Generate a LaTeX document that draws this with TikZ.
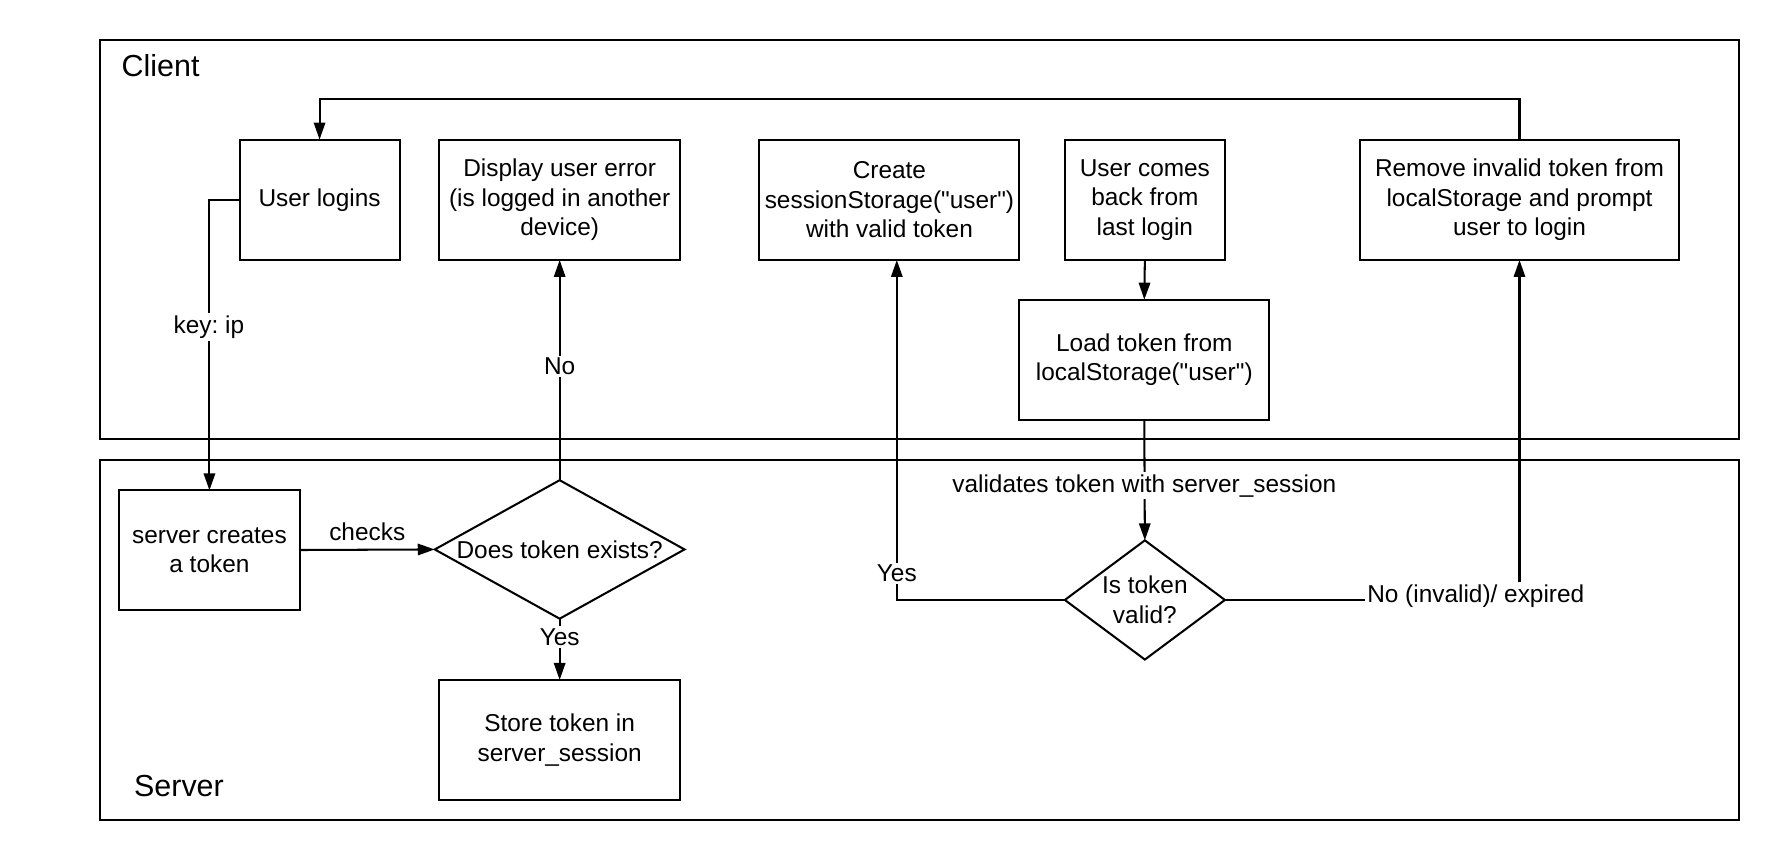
\documentclass[tikz,border=0pt]{standalone}
\usepackage{fontspec}
\setmainfont{Liberation Sans}
\usetikzlibrary{shapes.geometric,arrows.meta}
\frenchspacing
\begin{document}
\begin{tikzpicture}[x=1pt,y=-1pt,
  txt/.style={font=\fontsize{21.5}{26}\selectfont},
  proc/.style={txt, draw, line width=1.8pt, inner sep=0pt, outer sep=0pt, align=center},
  dec/.style={draw, diamond, line width=1.8pt, inner sep=0pt, outer sep=0pt},
  lane/.style={draw, line width=1.8pt, inner sep=0pt, outer sep=0pt},
  lanetitle/.style={font=\fontsize{26.8}{32}\selectfont, anchor=west, inner sep=0pt},
  arr/.style={line width=1.8pt, -{Triangle[length=15pt,width=10pt]}},
  lab/.style={txt, fill=white, inner sep=2pt}]
\useasboundingbox (0,0) rectangle (1568,757.6);

% swimlanes
\node[lane, minimum width=1444, minimum height=352] (clientlane) at (810,211) {};
\node[lane, minimum width=1444, minimum height=317] (serverlane) at (810,563.5) {};
\node[lanetitle] (clienttitle) at (107,58) {Client};
\node[lanetitle] (servertitle) at (118,692) {Server};

% client steps
\node[proc, minimum width=141, minimum height=106] (login) at (281.5,176) {User logins};
\node[proc, minimum width=212, minimum height=106] (display) at (493,176) {Display user error\\(is logged in another\\device)};
\node[proc, minimum width=229, minimum height=106] (create) at (783.5,176) {Create\\sessionStorage(\textquotedbl user\textquotedbl)\\with valid token};
\node[proc, minimum width=141, minimum height=106] (back) at (1008.5,176) {User comes\\back from\\last login};
\node[proc, minimum width=281, minimum height=106] (remove) at (1338.5,176) {Remove invalid token from\\localStorage and prompt\\user to login};
\node[proc, minimum width=220, minimum height=106] (load) at (1008,317) {Load token from\\localStorage(\textquotedbl user\textquotedbl)};

% server steps
\node[proc, minimum width=159, minimum height=105] (creates) at (184.5,484.5) {server creates\\a token};
\node[proc, minimum width=212, minimum height=106] (store) at (493,652) {Store token in\\server\_session};
\node[dec, minimum width=220, minimum height=122] (exists) at (493,484) {};
\node[txt] (existstext) at (exists) {Does token exists?};
\node[dec, minimum width=141, minimum height=105] (valid) at (1008.5,528.5) {};
\node[txt, align=center] (validtext) at (valid) {Is token\\valid?};

% connectors
\draw[arr] (remove.north) -- ++(0,-36) -| (login.north);
\draw[arr] (login.west) -| (creates.north);
\node[lab] (keyip) at (184,288) {key: ip};
\draw[arr] (creates.east) -- node[txt, above=4pt] (checks) {checks} (exists.west);
\draw[arr] (exists.north) -- (display.south);
\node[lab] (no) at (493,323) {No};
\draw[arr] (exists.south) -- (store.north);
\node[lab] (yes1) at (493,561) {Yes};
\draw[arr] (back.south) -- (load.north);
\draw[arr] (load.south) -- (valid.north);
\node[lab] (validates) at (1008,428) {validates token with server\_session};
\draw[arr] (valid.west) -| ([xshift=6.5pt]create.south);
\node[lab] (yes2) at (790,505) {Yes};
\draw[arr] (valid.east) -| (remove.south);
\node[lab] (noinvalid) at (1300,525) {No (invalid)/ expired};
\end{tikzpicture}
\end{document}
